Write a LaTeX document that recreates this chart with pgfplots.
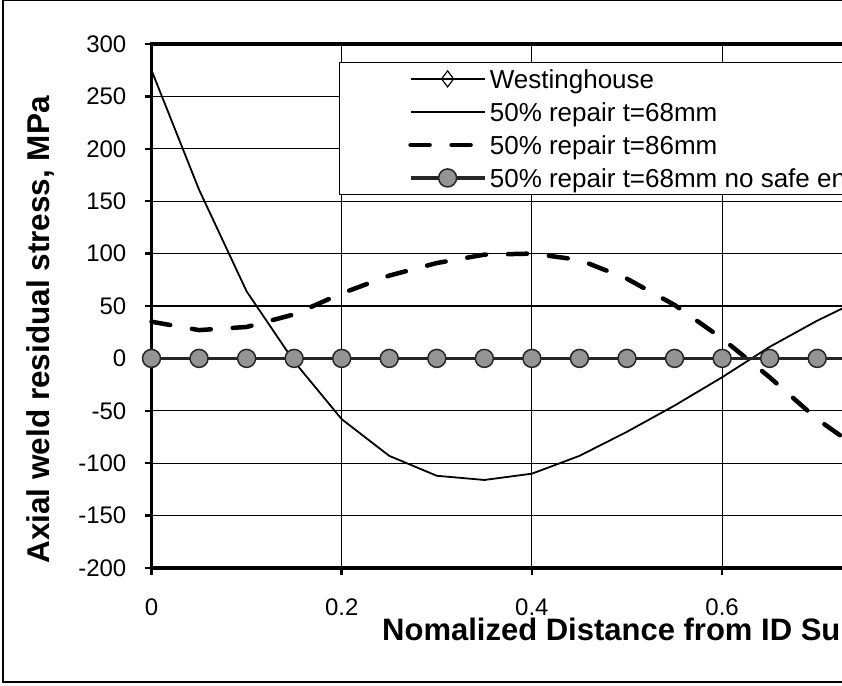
\documentclass[border=0pt]{standalone}
\usepackage{pgfplots}
\pgfplotsset{compat=1.18}
\usepackage{fontspec}
\setmainfont{Liberation Sans}

\begin{document}
\begin{tikzpicture}[x=1pt,y=1pt]
\begin{axis}[
  at={(151.5pt,117pt)}, anchor=south west,
  scale only axis, width=951pt, height=524pt,
  xmin=0, xmax=1, ymin=-200, ymax=300,
  xtick={0,0.2,0.4,0.6,0.8,1},
  xticklabels={0,0.2,0.4,0.6,0.8,1},
  ytick={-200,-150,...,300},
  xtick pos=bottom, ytick pos=left,
  grid=major,
  major grid style={black, line width=1.1pt},
  axis line style={line width=3.5pt},
  tick style={black, line width=2.5pt},
  tick align=outside, major tick length=7pt,
  /pgf/number format/assume math mode=true,
  ticklabel style={font=\fontsize{24}{28}\selectfont, inner sep=0pt},
  xticklabel style={anchor=north, yshift=-24pt},
  yticklabel style={anchor=east, xshift=-18pt},
  ylabel={\bfseries Axial weld residual stress, MPa},
  ylabel style={at={(rel axis cs:-0.1172,0.4542)}, anchor=center, inner sep=0pt,
    font=\fontsize{31.5}{36}\selectfont},
  xlabel={\bfseries Nomalized Distance from ID Surface},
  xlabel style={at={(rel axis cs:0.2424,-0.1374)}, anchor=base west, inner sep=0pt,
    font=\fontsize{31}{36}\selectfont},
  clip=false,
  legend image code/.code={\draw[mark repeat=2,mark phase=2]
    plot coordinates {(0pt,0pt)(37pt,0pt)(74pt,0pt)};},
  legend cell align=left,
  legend style={at={(axis cs:0.197,282.9)}, anchor=north west,
    draw=black, line width=1pt, inner xsep=69pt, inner ysep=0pt,
    font=\fontsize{26}{31}\selectfont,
    nodes={inner xsep=3pt, inner ysep=7pt, text height=19pt, text depth=0pt},
    row sep=0pt},
]
\addlegendimage{black, line width=1.6pt, mark=diamond, mark size=8pt,
  mark options={fill=white, solid, line width=1.2pt}}
\addlegendentry{Westinghouse}

% 50% repair, t = 68 mm
\addplot[black, line width=1.8pt] coordinates {
  (0,275)(0.05,161)(0.1,64)(0.15,-3)(0.2,-58)(0.25,-93)(0.3,-112)(0.35,-116)
  (0.4,-110)(0.45,-93)(0.5,-70)(0.55,-45)(0.6,-18)(0.65,11)(0.7,36)(0.75,58)};
\addlegendentry{50\% repair t=68mm}

% 50% repair, t = 86 mm
\addplot[black, line width=4.5pt, line cap=round, dash pattern=on 19pt off 22pt] coordinates {
  (0,35)(0.05,27)(0.1,30)(0.15,42)(0.2,62)(0.25,79)(0.3,91)(0.35,99)
  (0.4,100)(0.45,94)(0.5,76)(0.55,51)(0.6,19)(0.65,-18)(0.7,-58)(0.75,-90)};
\addlegendentry{50\% repair t=86mm}

% 50% repair, t = 68 mm, no safe end
\addplot[black!85, line width=3.5pt, mark=*, mark size=9pt,
  mark options={fill=black!42, draw=black!85, line width=1.5pt}] coordinates {
  (0,0)(0.05,0)(0.1,0)(0.15,0)(0.2,0)(0.25,0)(0.3,0)(0.35,0)
  (0.4,0)(0.45,0)(0.5,0)(0.55,0)(0.6,0)(0.65,0)(0.7,0)(0.75,0)};
\addlegendentry{50\% repair t=68mm no safe end}
\end{axis}
\draw[line width=1.2pt] (3,3) rectangle (1000,684.5);
\pgfresetboundingbox
\path[use as bounding box] (0,0) rectangle (842,685);
\end{tikzpicture}
\end{document}
